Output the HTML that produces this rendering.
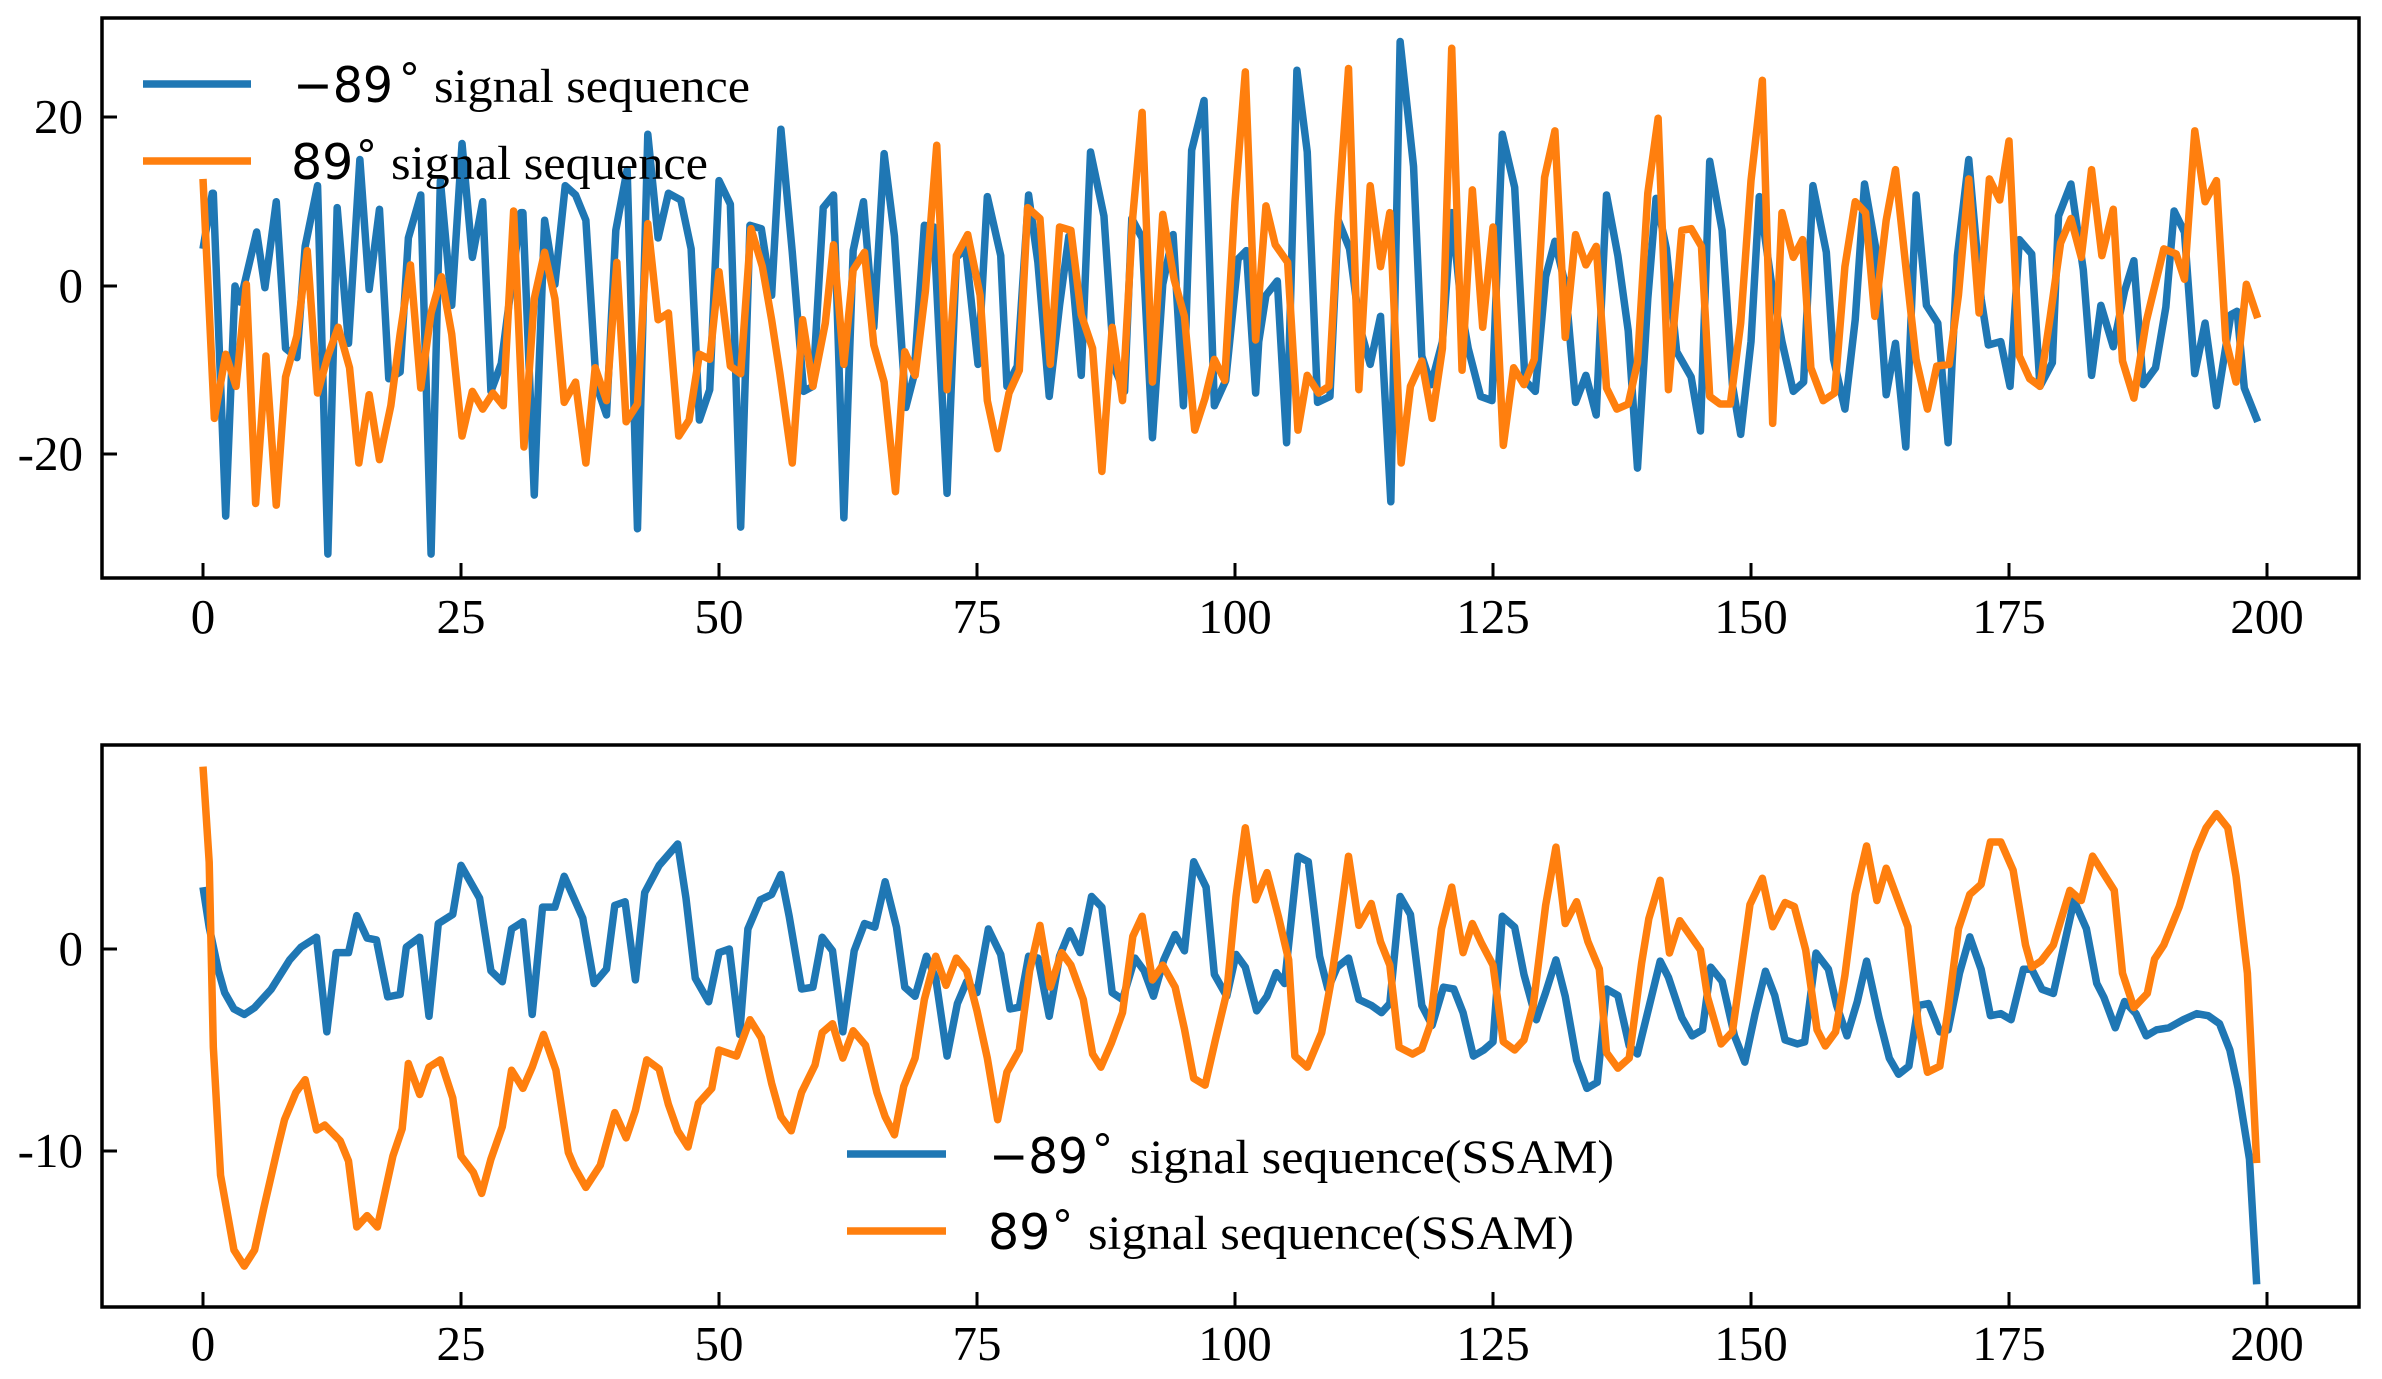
<!DOCTYPE html>
<html><head><meta charset="utf-8"><style>
html,body{margin:0;padding:0;background:#fff;}
svg{display:block;}
</style></head><body>
<svg width="2382" height="1379" viewBox="0 0 2382 1379" xmlns="http://www.w3.org/2000/svg">
<rect width="2382" height="1379" fill="#fff"/>
<defs>
<clipPath id="c1"><rect x="102" y="18" width="2257" height="560"/></clipPath>
<clipPath id="c2"><rect x="102" y="745" width="2257" height="562"/></clipPath>
</defs>
<g fill="none" stroke-width="7.5" stroke-linejoin="round" stroke-linecap="butt">
<g clip-path="url(#c1)"><g transform="matrix(10.32 0 0 -8.43 203 286)">
<polyline vector-effect="non-scaling-stroke" stroke="#1f77b4" points="0,4.4 0.9,11 1,11 2.2,-27.3 3.1,0 3.6,-1.9 5.2,6.4 6,-0.2 7.1,10 8,-7.4 9.1,-8.5 9.9,4.7 11.1,11.9 12.1,-31.8 13,9.3 14.1,-6.8 15.2,15 16.1,-0.4 17.1,9.1 18,-11 19.1,-10.2 19.9,5.7 21.1,10.8 22.1,-31.8 23,12.5 24.1,-2.3 25.1,16.9 26.1,3.4 27.1,10 27.9,-12.5 28.9,-9.2 30.8,8.7 31,8.7 32.1,-24.8 33.1,7.8 34.1,0.2 35.1,11.9 36.1,10.8 37.1,7.8 38.1,-11.7 39.1,-15.3 40,6.6 41.1,13.8 42.1,-28.8 43.1,18 44.1,5.7 45.1,11 46.3,10.2 47.3,4.4 48.1,-15.9 49.1,-12.3 50,12.5 51.1,9.7 52.1,-28.6 53,7.2 54.1,6.8 55.1,-1.1 56,18.6 57.1,4 58.2,-12.5 59.1,-11.9 60.1,9.3 61.1,10.8 62.1,-27.5 63,4.2 64,10 65,-4.9 66,15.7 67,5.9 68.1,-14.4 68.9,-10.6 69.9,7.2 70.8,7 72.1,-24.6 73,3.4 73.9,4.4 75.1,-9.3 76,10.6 77.3,3.6 77.9,-11.9 78.9,-9.5 80,10.8 80.9,2.8 82,-13.1 83,-2.3 83.9,5.9 85.1,-10.6 86,15.9 87.3,8.3 88.3,-9.7 89.3,-12.5 90,8 91,5.7 92,-18 93,0.2 94,6.1 95,-14.2 95.8,16.1 97,22 98,-14.2 99.1,-11.2 100.3,3.2 101.1,4.2 102,-12.7 102.3,-6.6 103,-1.1 104.1,0.6 105,-18.6 106,25.6 107,15.9 108,-13.8 109.2,-13.1 110,7.8 111.1,4.4 112.1,-4.9 113.1,-9.3 114.1,-3.6 115.1,-25.6 116,29 117.3,14.2 118.1,-8.3 119,-11.7 120.1,-6.6 121,8.7 122,-3.2 122.6,-7.4 123.8,-13.1 124.9,-13.6 125.9,18 127.1,11.7 128.1,-11.2 129.1,-12.5 130.1,1.1 131,5.3 132,0.2 133,-13.8 134,-10.6 135,-15.3 136,10.8 137.1,3.6 138.1,-5.3 139,-21.6 140,-1.5 140.8,10.4 141.8,4.4 142.8,-7.8 144.2,-10.8 145.1,-17.2 146,14.8 147.2,6.6 148.2,-11.7 149,-17.6 150,-6.6 150.8,10.6 152,0.2 153,-6.6 154.1,-12.5 155.1,-11.4 156,11.9 157.3,4 158,-8.7 159.1,-14.6 160.1,-4 161,12.1 162.1,4.4 163.1,-12.9 164,-6.8 165,-19.1 166,10.8 167,-2.3 168.1,-4.4 169.1,-18.6 170,3.6 171.1,15 172.3,-1.5 173,-7 174.2,-6.6 175.1,-11.9 176,5.5 177.2,3.8 178,-11.9 179.2,-9.1 179.8,8.3 181,12.1 182.2,1.9 183,-10.6 183.9,-2.3 185.1,-7.2 186.2,-0.6 187.1,3 188,-11.7 189.2,-9.7 190.2,-2.5 191,8.9 192,6.4 193,-10.4 194,-4.4 195.1,-14.2 196.5,-3.4 197.1,-3 197.8,-12.1 199.1,-16.1"/>
<polyline vector-effect="non-scaling-stroke" stroke="#ff7f0e" points="0,12.7 1.1,-15.7 2.2,-8.1 3.2,-11.9 4.2,0.2 5.1,-25.8 6.1,-8.3 7.1,-26 8,-10.8 9.1,-5.9 10.1,4.2 11.1,-12.7 12.1,-8.3 13.1,-4.9 14.2,-9.7 15.1,-21 16.1,-12.9 17.1,-20.6 18.2,-14.2 19.1,-5.7 20.1,2.5 21.1,-12.1 22.1,-3.2 23.1,1.1 24.1,-5.7 25.1,-17.8 26.1,-12.5 27.1,-14.6 28.1,-12.7 29.1,-14.2 30.1,8.9 31.1,-19.1 32.1,-1.5 33.1,4 34.1,-1.5 35,-13.8 36.1,-11.4 37.1,-21 38,-9.7 39.1,-13.6 40.1,2.8 41,-16.1 42.1,-14 43.1,7.4 44.1,-4 45.1,-3.2 46.1,-17.8 47.1,-15.9 48.1,-8.1 49.1,-8.7 50,1.7 51.1,-9.5 52.1,-10.4 53.1,6.8 54.2,2.3 55.1,-4 55.9,-10.4 57.1,-21 58.1,-4 59.1,-11.9 60.3,-4.4 61.1,4.9 62.1,-9.3 63,1.9 64.1,4 65,-7 66,-11.4 67.1,-24.4 68,-7.8 69,-10.6 70,-0.6 71.1,16.7 72.1,-12.3 73,3.6 74.1,6.1 75.3,-1.1 76,-13.6 77,-19.3 78.1,-12.7 79.1,-10 79.9,9.3 81.1,8 82.1,-9.3 83,7 84.1,6.6 85.1,-3.4 86.2,-7.4 87.1,-22 88.1,-4.9 89.1,-13.6 90.1,8.3 91,20.6 92,-11.4 93,8.5 94.1,0.8 95.1,-3.6 96.1,-17.1 97.1,-13.3 98,-8.7 99,-11.2 100,10 101,25.4 102,-6.4 103,9.5 103.9,4.9 105.1,2.8 106.1,-17.1 107,-10.6 108.1,-12.7 109.1,-11.9 110,8.3 111,25.8 112,-12.3 113.1,11.9 114.1,2.3 115,8.7 116.1,-21 117,-11.9 118.1,-8.9 119.1,-15.7 120.1,-7.4 121,28.2 122,-10 123,11.4 124,-4.9 125,7 126,-18.9 127,-9.7 128,-11.7 129,-8.7 130,12.9 131,18.4 132,-6.1 133,6.1 134,2.5 135,4.7 136,-12.1 137,-14.6 138.1,-14 139,-9.1 140,11 141,19.9 142,-12.3 143.3,6.6 144.2,6.8 145.2,4.7 146,-13.1 147,-14 148,-14 149,-4.4 150,12.5 151.1,24.4 152.1,-16.3 153,8.7 154.1,3.4 155,5.5 155.8,-9.7 157,-13.6 158.1,-12.7 159.1,2.3 160.1,10 161.1,8.7 162,-3.6 163.1,7.8 164,13.8 165,2.3 166,-8.7 167.1,-14.6 168,-9.5 169.2,-9.3 170.1,-1.1 171.1,12.7 172.1,-3.2 173.1,12.7 174.1,10.2 175,17.2 176,-8.3 177,-11 178,-11.9 179,-3.6 180,5.1 181,8 182,3.4 183,13.8 184,3.6 185.1,9.1 186,-8.9 187.1,-13.3 188.3,-4.2 190,4.4 191.2,3.8 192,0.8 193,18.4 194,10 195.1,12.5 196,-6.4 197,-11.4 198,0.2 199.1,-3.8"/>
</g></g>
<g clip-path="url(#c2)"><g transform="matrix(10.32 0 0 -20.2 203 949)">
<polyline vector-effect="non-scaling-stroke" stroke="#1f77b4" points="0,3.06 0.6,1.08 1.5,-1.08 2.1,-2.16 3,-2.97 4,-3.24 5,-2.9 6.6,-2 8.4,-0.54 9.5,0.09 11,0.58 12,-4.1 12.9,-0.18 14.1,-0.18 14.9,1.65 15.9,0.54 16.8,0.45 17.9,-2.37 19.1,-2.25 19.7,0.09 21,0.58 21.9,-3.33 22.8,1.26 24.2,1.71 25,4.14 26.8,2.52 27.9,-1.08 29,-1.62 29.9,0.99 31,1.35 31.9,-3.24 32.9,2.07 34.1,2.07 35,3.6 36.8,1.53 37.9,-1.71 39.1,-0.99 39.9,2.16 40.9,2.34 41.9,-1.53 42.8,2.79 44.2,4.14 46,5.2 46.8,2.52 47.7,-1.44 49,-2.61 50,-0.18 51,0 52,-4.23 52.8,0.99 54,2.43 55.1,2.7 56,3.69 56.8,1.62 58,-1.98 59.1,-1.89 60,0.58 61,-0.09 62,-4.1 63.1,-0.09 64.1,1.26 65.1,1.08 66.1,3.33 67.2,1.08 68,-1.89 69,-2.34 70.1,-0.36 71,-1.44 72.1,-5.3 73.1,-2.7 74,-1.62 75,-2.16 76.1,0.99 77.3,-0.27 78.2,-2.97 79.1,-2.88 80,-0.36 80.9,-0.45 82,-3.33 83,-0.36 84,0.9 85,-0.18 86.1,2.6 87.1,2.07 88.1,-2.16 89.1,-2.5 90.3,-0.45 91.2,-1.08 92.1,-2.34 93.1,-0.54 94.2,0.72 95.1,-0.09 96,4.32 97.2,3.06 98,-1.26 99.2,-2.34 100.1,-0.27 101,-0.9 102.1,-3.06 103.1,-2.34 104,-1.17 104.8,-1.71 106.1,4.59 107.1,4.32 108.2,-0.36 109,-1.98 109.9,-0.9 111,-0.45 112,-2.5 113.2,-2.79 114.2,-3.15 115,-2.7 116,2.6 117,1.71 118.1,-2.79 119.1,-3.78 120.2,-1.89 121.2,-1.98 122.1,-3.15 123.1,-5.3 124.1,-5 125,-4.6 125.9,1.62 127.1,1.08 128,-1.26 129.2,-3.5 130.1,-2.16 131.1,-0.54 132,-2.34 133.1,-5.5 134.1,-6.9 135.1,-6.6 136,-1.98 137.1,-2.3 138.2,-4.8 139,-5.2 140.1,-2.9 141.2,-0.6 142,-1.4 143.3,-3.4 144.3,-4.3 145.3,-4 146.1,-0.9 147.2,-1.6 148.4,-4.3 149.4,-5.6 150.4,-3.2 151.4,-1.1 152.3,-2.3 153.3,-4.5 154.5,-4.7 155.2,-4.6 156.3,-0.2 157.5,-1 158.3,-2.8 159.3,-4.3 160.3,-2.6 161.2,-0.6 162.4,-3.4 163.4,-5.4 164.3,-6.2 165.3,-5.8 166.2,-2.8 167.2,-2.7 168.3,-4.1 169.1,-4 170.2,-1.2 171.2,0.6 172.3,-1 173.2,-3.3 174.2,-3.2 175.2,-3.5 176.4,-1 177.2,-1 178.2,-2 179.3,-2.2 180.3,0.1 181.3,2.4 182.5,1 183.5,-1.7 184.2,-2.4 185.3,-3.9 186.2,-2.6 187.3,-3.2 188.3,-4.3 189.3,-4 190.5,-3.9 191.9,-3.5 193.2,-3.2 194.3,-3.3 195.4,-3.7 196.4,-5 197.2,-6.9 198.3,-10.4 199,-16.6"/>
<polyline vector-effect="non-scaling-stroke" stroke="#ff7f0e" points="0,9.03 0.6,4.3 1,-4.86 1.7,-11.2 3,-14.9 4,-15.7 5,-14.9 5.9,-12.8 7.3,-9.7 7.9,-8.45 9,-7.1 9.9,-6.47 11,-8.96 11.8,-8.72 13.3,-9.5 14.1,-10.5 14.9,-13.76 15.9,-13.2 16.9,-13.76 18.4,-10.25 19.3,-8.9 19.9,-5.67 21,-7.2 21.9,-5.85 23,-5.49 24.2,-7.37 25,-10.25 26.2,-11.06 27,-12.1 27.9,-10.4 29,-8.8 29.9,-6 31,-6.9 31.9,-5.85 33,-4.23 34.2,-6 35.4,-10.07 36,-10.8 37.1,-11.8 38.5,-10.7 39.9,-8.1 41,-9.35 41.9,-8 43,-5.49 44.2,-5.94 45.1,-7.7 46,-9 47,-9.8 48,-7.64 49.3,-6.9 50,-5 51.7,-5.3 53,-3.5 54.1,-4.4 55.1,-6.65 56,-8.3 57,-9 58,-7.1 59.3,-5.75 60,-4.14 61,-3.7 62,-5.4 63,-4.05 64.2,-4.77 65.3,-7.1 66.1,-8.3 67,-9.2 67.9,-6.8 69,-5.4 69.9,-2.5 71,-0.36 72,-1.8 73,-0.45 74,-1.08 75,-3.06 76,-5.4 77,-8.45 77.9,-6.1 79.1,-5 80.1,-1.08 81.1,1.17 82.1,-1.89 83.2,-0.18 84.1,-0.8 85.3,-2.5 86.2,-5.2 87,-5.85 88,-4.68 89.1,-3.15 90.1,0.63 91,1.62 92,-1.53 93,-0.8 94.2,-1.89 95.1,-3.96 96,-6.4 97.1,-6.74 98.1,-4.5 99.2,-2.16 100.1,2.6 101,6 102,2.43 103.1,3.78 104.2,1.62 105.2,-0.54 105.8,-5.3 107,-5.85 108.4,-4.14 109.3,-1.62 110,0.81 111,4.59 112,1.17 113.2,2.25 114.1,0.36 115,-0.8 115.9,-4.86 117.2,-5.2 118.1,-4.95 118.9,-3.78 120,0.99 121,3.06 122.1,-0.18 123,1.26 123.9,0.27 125,-0.8 126,-4.59 127.1,-5 128,-4.5 128.9,-2.79 130.1,2.16 131.1,5.04 132,1.26 133.1,2.34 134.2,0.36 135.3,-0.99 136,-5.13 137.1,-5.9 138.2,-5.4 139.4,-0.7 140.1,1.5 141.2,3.4 142.1,-0.2 143.1,1.4 145.1,-0.05 145.8,-2.4 147.1,-4.7 148.2,-4.1 149.9,2.2 151.1,3.5 152.1,1.1 153.3,2.3 154.2,2.1 155.3,-0.05 156.4,-4 157.2,-4.8 158.2,-4.1 159.1,-1.3 160.1,2.7 161.2,5.1 162.2,2.4 163.1,4 165.2,1.1 166.2,-3.7 167.1,-6.1 168.3,-5.8 169.1,-3 170.1,1 171.2,2.7 172.3,3.2 173.2,5.3 174.2,5.3 175.4,3.9 176.6,0.2 177.2,-0.9 178.1,-0.6 179.3,0.2 180.9,2.9 182,2.4 183.1,4.6 185.2,2.9 186,-1.2 187.1,-2.9 188.4,-2.2 189.1,-0.5 190,0.2 191.5,2.1 193.1,4.8 194.1,6 195.1,6.7 196.2,6 197,3.6 198.1,-1.2 199,-10.6"/>
</g></g>
</g>
<g fill="none" stroke="#000" stroke-width="3.5">
<rect x="102" y="18" width="2257" height="560"/>
<rect x="102" y="745" width="2257" height="562"/>
</g>
<g stroke="#000" stroke-width="3">
<path d="M203,578v-15 M461,578v-15 M719,578v-15 M977,578v-15 M1235,578v-15 M1493,578v-15 M1751,578v-15 M2009,578v-15 M2267,578v-15"/>
<path d="M203,1307v-15 M461,1307v-15 M719,1307v-15 M977,1307v-15 M1235,1307v-15 M1493,1307v-15 M1751,1307v-15 M2009,1307v-15 M2267,1307v-15"/>
<path d="M102,117h15 M102,286h15 M102,454h15"/>
<path d="M102,949h15 M102,1151h15"/>
</g>
<g font-family="Liberation Serif, serif" font-size="49" fill="#000">
<g text-anchor="middle">
<text x="203" y="633">0</text><text x="461" y="633">25</text><text x="719" y="633">50</text><text x="977" y="633">75</text><text x="1235" y="633">100</text><text x="1493" y="633">125</text><text x="1751" y="633">150</text><text x="2009" y="633">175</text><text x="2267" y="633">200</text>
<text x="203" y="1360">0</text><text x="461" y="1360">25</text><text x="719" y="1360">50</text><text x="977" y="1360">75</text><text x="1235" y="1360">100</text><text x="1493" y="1360">125</text><text x="1751" y="1360">150</text><text x="2009" y="1360">175</text><text x="2267" y="1360">200</text>
</g>
<g text-anchor="end">
<text x="83" y="133">20</text><text x="83" y="302">0</text><text x="83" y="470">-20</text>
<text x="83" y="965">0</text><text x="83" y="1167">-10</text>
</g>
</g>
<g stroke-width="7.5">
<line x1="143" y1="84" x2="251" y2="84" stroke="#1f77b4"/>
<line x1="143" y1="161" x2="251" y2="161" stroke="#ff7f0e"/>
<line x1="847" y1="1154" x2="946" y2="1154" stroke="#1f77b4"/>
<line x1="847" y1="1231" x2="946" y2="1231" stroke="#ff7f0e"/>
</g>
<g fill="#000">
<text x="293" y="102" font-family="DejaVu Sans, sans-serif" font-size="49" textLength="100" lengthAdjust="spacingAndGlyphs">−89</text>
<text x="399" y="93" font-family="DejaVu Sans, sans-serif" font-size="42">°</text>
<text x="434" y="102" font-family="Liberation Serif, serif" font-size="48" textLength="316" lengthAdjust="spacingAndGlyphs">signal sequence</text>
<text x="291" y="179" font-family="DejaVu Sans, sans-serif" font-size="49">89</text>
<text x="356" y="170" font-family="DejaVu Sans, sans-serif" font-size="42">°</text>
<text x="391" y="179" font-family="Liberation Serif, serif" font-size="48" textLength="317" lengthAdjust="spacingAndGlyphs">signal sequence</text>
<text x="989" y="1173" font-family="DejaVu Sans, sans-serif" font-size="49" textLength="99" lengthAdjust="spacingAndGlyphs">−89</text>
<text x="1092" y="1164" font-family="DejaVu Sans, sans-serif" font-size="42">°</text>
<text x="1130" y="1173" font-family="Liberation Serif, serif" font-size="48" textLength="484" lengthAdjust="spacingAndGlyphs">signal sequence(SSAM)</text>
<text x="988" y="1249" font-family="DejaVu Sans, sans-serif" font-size="49">89</text>
<text x="1052" y="1240" font-family="DejaVu Sans, sans-serif" font-size="42">°</text>
<text x="1088" y="1249" font-family="Liberation Serif, serif" font-size="48" textLength="486" lengthAdjust="spacingAndGlyphs">signal sequence(SSAM)</text>
</g>
</svg>
</body></html>
